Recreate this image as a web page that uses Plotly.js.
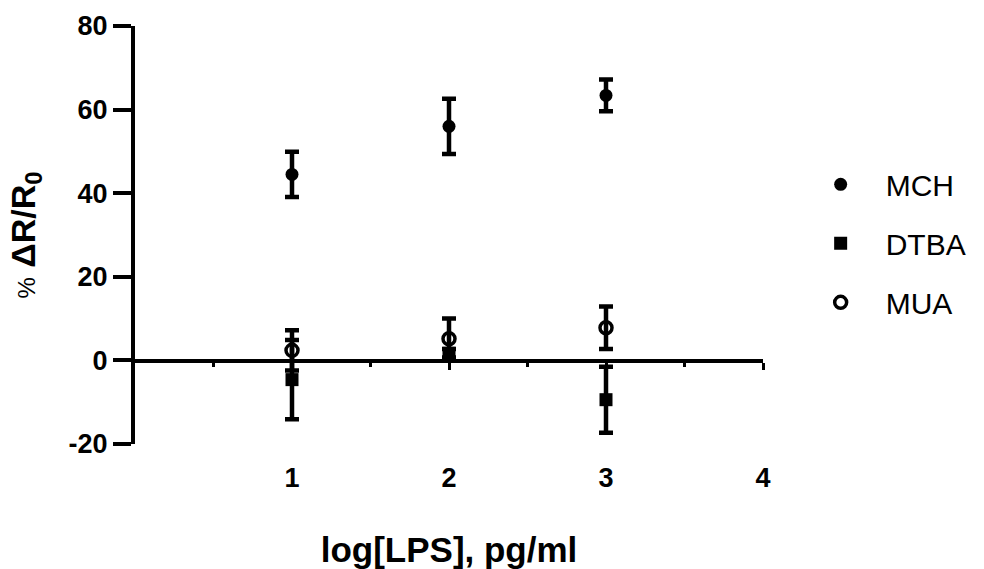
<!DOCTYPE html>
<html>
<head>
<meta charset="utf-8">
<script src="https://cdn.plot.ly/plotly-3.0.1.min.js"></script>
<style>
  html, body { margin: 0; padding: 0; background: #fff; }
  #chart { width: 984px; height: 569px; }
</style>
</head>
<body>
<div id="chart"></div>
<script>
// log[LPS] concentrations (pg/ml, log scale)
const logLPS = [1, 2, 3];

// % ΔR/R0 response, mean and error, per surface chemistry
const mchMean  = [44.5, 56.0, 63.4];
const mchErr   = [5.4, 6.6, 3.8];
const dtbaMean = [-4.6, 1.7, -9.4];
const dtbaErr  = [9.5, 1.0, 7.9];
const muaMean  = [2.4, 5.2, 7.8];
const muaErr   = [4.8, 4.8, 5.1];

const seriesNames = ['MCH', 'DTBA', 'MUA'];

const xTickVals = [1, 2, 3, 4];
const xTickText = ['1', '2', '3', '4'];
const xMinorVals = [0.5, 1.5, 2.5, 3.5];
const yTickVals = [-20, 0, 20, 40, 60, 80];
const yTickText = ['-20', '0', '20', '40', '60', '80'];

const FONT = 'Arial, "Liberation Sans", sans-serif';
const yRange = [-20, 80];

function errBar(arr) {
  return { type: 'data', array: arr, visible: true, color: '#000', thickness: 4.5, width: 7 };
}

const traces = [
  {
    x: logLPS, y: mchMean, error_y: errBar(mchErr),
    name: seriesNames[0], legendgroup: 'g1', type: 'scatter', mode: 'markers',
    marker: { symbol: 'circle', size: 13, color: '#000' }
  },
  {
    x: logLPS, y: dtbaMean, error_y: errBar(dtbaErr),
    name: seriesNames[1], legendgroup: 'g2', type: 'scatter', mode: 'markers',
    marker: { symbol: 'square', size: 13, color: '#000' }
  },
  {
    x: logLPS, y: muaMean, error_y: errBar(muaErr),
    name: seriesNames[2], legendgroup: 'g3', type: 'scatter', mode: 'markers',
    marker: { symbol: 'circle-open', size: 12, color: '#000', line: { width: 3.5, color: '#000' } }
  },
  // empty trace so the zero-crossing axis gets its own subplot
  {
    x: [], y: [], xaxis: 'x2', yaxis: 'y', type: 'scatter', mode: 'markers',
    showlegend: false, hoverinfo: 'skip'
  }
];

const layout = {
  width: 984, height: 569,
  paper_bgcolor: '#fff', plot_bgcolor: '#fff',
  margin: { l: 135, r: 219, t: 26, b: 125 },
  font: { family: FONT, color: '#000' },
  showlegend: true,
  legend: {
    x: 1.052, xanchor: 'left', y: 0.48, yanchor: 'middle',
    font: { family: FONT, size: 30, color: '#000' },
    traceorder: 'grouped', tracegroupgap: 17,
    itemwidth: 80, bgcolor: 'rgba(0,0,0,0)'
  },
  // bottom axis: carries the tick labels and title only
  xaxis: {
    range: [0, 4], tickvals: xTickVals, ticktext: xTickText,
    showline: false, showgrid: false, zeroline: false,
    ticks: 'outside', ticklen: 10, tickcolor: 'rgba(0,0,0,0)',
    tickfont: { family: FONT, size: 27, weight: 'bold', color: '#000' },
    title: { text: '<b>log[LPS], pg/ml</b>', font: { family: FONT, size: 35, color: '#000' }, standoff: 48 },
    fixedrange: true
  },
  // axis line crossing at y = 0
  xaxis2: {
    overlaying: 'x', anchor: 'free',
    position: (0 - yRange[0]) / (yRange[1] - yRange[0]),
    range: [0, 4], tickvals: xTickVals,
    showline: true, linewidth: 3.5, linecolor: '#000',
    showgrid: false, zeroline: false, showticklabels: false,
    ticks: 'outside', ticklen: 7, tickwidth: 3, tickcolor: '#000',
    minor: { tickvals: xMinorVals, ticks: 'outside', ticklen: 4, tickwidth: 3, tickcolor: '#000', showgrid: false },
    fixedrange: true
  },
  yaxis: {
    range: yRange, tickvals: yTickVals, ticktext: yTickText,
    showline: true, linewidth: 4, linecolor: '#000',
    showgrid: false, zeroline: false,
    ticks: 'outside', ticklen: 18, tickwidth: 4, tickcolor: '#000',
    tickfont: { family: FONT, size: 27, weight: 'bold', color: '#000' },
    title: {
      text: '<span style="font-size:24px">%</span> <b>ΔR/R<sub>0</sub></b>',
      font: { family: FONT, size: 34, color: '#000' }, standoff: 24
    },
    fixedrange: true
  }
};

Plotly.newPlot('chart', traces, layout, { displayModeBar: false, staticPlot: true });
</script>
</body>
</html>
